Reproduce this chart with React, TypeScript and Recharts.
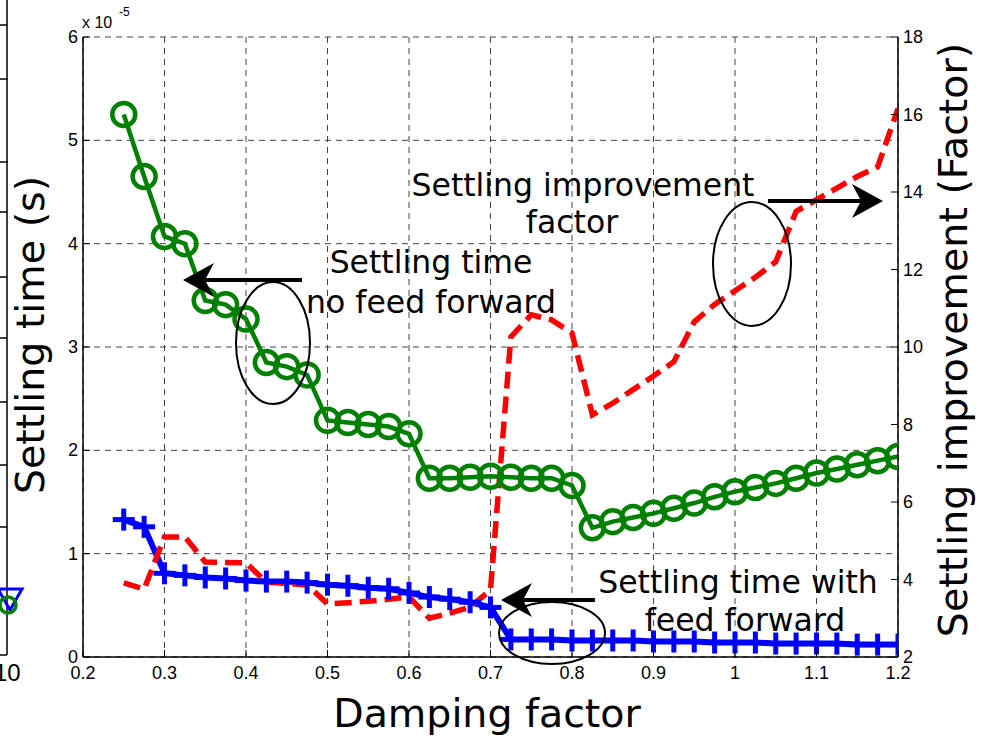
import React from 'react';
import { ComposedChart, Line, XAxis, YAxis, CartesianGrid } from 'recharts';

const dampingFactors = [0.25, 0.275, 0.3, 0.325, 0.35, 0.375, 0.4, 0.425, 0.45, 0.475, 0.5, 0.525, 0.55, 0.575, 0.6, 0.625, 0.65, 0.675, 0.7, 0.725, 0.75, 0.775, 0.8, 0.825, 0.85, 0.875, 0.9, 0.925, 0.95, 0.975, 1.0, 1.025, 1.05, 1.075, 1.1, 1.125, 1.15, 1.175, 1.2];

// settling time without feed forward (x 1e-5 s)
const settlingNoFF = [5.25, 4.65, 4.07, 4.0, 3.45, 3.41, 3.27, 2.85, 2.81, 2.73, 2.29, 2.27, 2.25, 2.23, 2.16, 1.73, 1.73, 1.74, 1.75, 1.74, 1.73, 1.73, 1.66, 1.25, 1.31, 1.35, 1.39, 1.44, 1.49, 1.55, 1.6, 1.64, 1.68, 1.73, 1.78, 1.82, 1.86, 1.9, 1.94];

// settling time with feed forward (x 1e-5 s)
const settlingFF = [1.33, 1.26, 0.81, 0.79, 0.77, 0.76, 0.74, 0.73, 0.73, 0.72, 0.7, 0.69, 0.67, 0.66, 0.62, 0.58, 0.56, 0.53, 0.48, 0.17, 0.17, 0.17, 0.16, 0.16, 0.16, 0.16, 0.15, 0.15, 0.15, 0.14, 0.14, 0.14, 0.13, 0.13, 0.13, 0.13, 0.12, 0.12, 0.12];

// settling improvement factor
const improvement = [3.91, 3.75, 5.1, 5.1, 4.45, 4.44, 4.43, 3.93, 3.9, 3.86, 3.37, 3.4, 3.44, 3.49, 3.55, 3.0, 3.13, 3.29, 3.73, 10.26, 10.83, 10.7, 10.36, 8.25, 8.55, 8.9, 9.25, 9.62, 10.65, 11.1, 11.45, 11.8, 12.2, 13.5, 13.8, 14.1, 14.4, 14.65, 16.15];

const xTicks = [0.2, 0.3, 0.4, 0.5, 0.6, 0.7, 0.8, 0.9, 1.0, 1.1, 1.2];
const leftTicks = [0, 1, 2, 3, 4, 5, 6];
const rightTicks = [2, 4, 6, 8, 10, 12, 14, 16, 18];

const data = dampingFactors.map((x, i) => ({
  x,
  noff: settlingNoFF[i],
  ff: settlingFF[i],
  imp: improvement[i],
}));

const TICK_FONT = '"Liberation Sans", Arial, sans-serif';
const TITLE_FONT = '"DejaVu Sans", "Noto Sans", sans-serif';
const TICK_LEN = 7;

const fmtX = (v: number) => (Math.round(v * 10) / 10).toString();

const BottomTick = (props: any) => {
  const { x, y, payload } = props;
  const axisY = y - 5;
  return (
    <g>
      <line x1={x} y1={axisY} x2={x} y2={axisY - TICK_LEN} stroke="#000" strokeWidth={1} />
      <text x={x} y={axisY + 22} textAnchor="middle" fontFamily={TICK_FONT} fontSize={18} fill="#000">
        {fmtX(payload.value)}
      </text>
    </g>
  );
};

const LeftTick = (props: any) => {
  const { x, y, payload } = props;
  const axisX = x + 5;
  return (
    <g>
      <line x1={axisX} y1={y} x2={axisX + TICK_LEN} y2={y} stroke="#000" strokeWidth={1} />
      <text x={axisX - 5} y={y + 6} textAnchor="end" fontFamily={TICK_FONT} fontSize={18} fill="#000">
        {payload.value}
      </text>
    </g>
  );
};

const RightTick = (props: any) => {
  const { x, y, payload } = props;
  const axisX = x - 5;
  return (
    <g>
      <line x1={axisX} y1={y} x2={axisX - TICK_LEN} y2={y} stroke="#000" strokeWidth={1} />
      <text x={axisX + 5} y={y + 6} textAnchor="start" fontFamily={TICK_FONT} fontSize={18} fill="#000">
        {payload.value}
      </text>
    </g>
  );
};

const CircleDot = (props: any) => {
  const { cx, cy, index } = props;
  if (cx == null || cy == null) return null;
  return <circle key={`c${index}`} cx={cx} cy={cy} r={11.5} fill="none" stroke="#008000" strokeWidth={4.5} />;
};

const PlusDot = (props: any) => {
  const { cx, cy, index } = props;
  if (cx == null || cy == null) return null;
  const h = 11;
  return (
    <g key={`p${index}`}>
      <line x1={cx - h} y1={cy} x2={cx + h} y2={cy} stroke="#0000ff" strokeWidth={5} />
      <line x1={cx} y1={cy - h} x2={cx} y2={cy + h} stroke="#0000ff" strokeWidth={5} />
    </g>
  );
};

const arrowLeft = (tipX: number, tipY: number, tailX: number) => (
  <g>
    <line x1={tipX + 22} y1={tipY} x2={tailX} y2={tipY} stroke="#000" strokeWidth={4} />
    <polygon
      points={`${tipX},${tipY} ${tipX + 31},${tipY - 17} ${tipX + 22},${tipY} ${tipX + 31},${tipY + 17}`}
      fill="#000"
    />
  </g>
);

const arrowRight = (tipX: number, tipY: number, tailX: number) => (
  <g>
    <line x1={tailX} y1={tipY} x2={tipX - 22} y2={tipY} stroke="#000" strokeWidth={4} />
    <polygon
      points={`${tipX},${tipY} ${tipX - 31},${tipY - 17} ${tipX - 22},${tipY} ${tipX - 31},${tipY + 17}`}
      fill="#000"
    />
  </g>
);

const Overlay = () => (
  <svg
    width={984}
    height={737}
    style={{ position: 'absolute', left: 0, top: 0, pointerEvents: 'none' }}
  >
    {/* fragment of neighbouring figure at the left edge */}
    <g stroke="#000" strokeWidth={1.5} fill="none">
      <line x1={7} y1={0} x2={7} y2={655} />
      <line x1={0} y1={25} x2={7} y2={25} />
      <line x1={0} y1={79} x2={8} y2={79} />
      <line x1={0} y1={162} x2={8} y2={162} />
      <line x1={0} y1={212} x2={7} y2={212} />
      <line x1={0} y1={277} x2={7} y2={277} />
      <line x1={0} y1={338} x2={7} y2={338} />
      <line x1={0} y1={402} x2={7} y2={402} />
      <line x1={0} y1={465} x2={7} y2={465} />
      <line x1={0} y1={527} x2={7} y2={527} />
      <line x1={0} y1={655} x2={7} y2={655} />
    </g>
    <polygon points="-2,589 22,589 10,610" fill="none" stroke="#0000ff" strokeWidth={3} />
    <circle cx={8} cy={605} r={8} fill="none" stroke="#008000" strokeWidth={3.5} />
    <text x={-6} y={681} fontFamily={TICK_FONT} fontSize={24} fill="#000">10</text>

    {/* exponent label */}
    <text x={82} y={28} fontFamily={TICK_FONT} fontSize={16} fill="#000">x 10</text>
    <text x={119} y={16} fontFamily={TICK_FONT} fontSize={12} fill="#000">-5</text>

    {/* annotations */}
    <g fontFamily={TITLE_FONT} fontSize={31.5} fill="#000" textAnchor="middle">
      <text x={431} y={273}>Settling time</text>
      <text x={431} y={313}>no feed forward</text>
      <text x={583} y={196}>Settling improvement</text>
      <text x={572} y={233}>factor</text>
      <text x={738} y={593}>Settling time with</text>
      <text x={745} y={631}>feed forward</text>
    </g>
    <g fill="none" stroke="#000" strokeWidth={2}>
      <ellipse cx={273} cy={343} rx={37} ry={61} />
      <ellipse cx={752} cy={264} rx={39} ry={62} />
      <ellipse cx={552} cy={633} rx={53} ry={31} />
    </g>
    {arrowLeft(183, 280, 302)}
    {arrowRight(883, 201, 768)}
    {arrowLeft(501, 600, 595)}

    {/* axis titles */}
    <text x={487} y={727} textAnchor="middle" fontFamily={TITLE_FONT} fontSize={39.5} fill="#000">
      Damping factor
    </text>
    <text
      x={0}
      y={0}
      transform="translate(44,335) rotate(-90)"
      textAnchor="middle"
      fontFamily={TITLE_FONT}
      fontSize={39.5}
      fill="#000"
    >
      Settling time (s)
    </text>
    <text
      x={0}
      y={0}
      transform="translate(967,340) rotate(-90)"
      textAnchor="middle"
      fontFamily={TITLE_FONT}
      fontSize={39.5}
      fill="#000"
    >
      Settling improvement (Factor)
    </text>
  </svg>
);

export default function App() {
  return (
    <div style={{ position: 'absolute', left: 0, top: 0, width: 984, height: 737, background: '#fff', overflow: 'hidden' }}>
      <ComposedChart
        width={984}
        height={737}
        data={data}
        margin={{ top: 37, right: 0, bottom: 0, left: 0 }}
      >
        <CartesianGrid
          xAxisId={0}
          yAxisId="left"
          stroke="#444"
          strokeWidth={1}
          strokeDasharray="6 5"
          verticalValues={xTicks}
          horizontalValues={leftTicks}
        />
        <XAxis
          xAxisId={0}
          dataKey="x"
          type="number"
          domain={[0.2, 1.2]}
          ticks={xTicks}
          interval={0}
          height={80}
          tickSize={0}
          tickMargin={5}
          tickLine={false}
          axisLine={{ stroke: '#000', strokeWidth: 1.5 }}
          tick={<BottomTick />}
          allowDataOverflow
        />
        <XAxis
          xAxisId="top"
          dataKey="x"
          type="number"
          orientation="top"
          domain={[0.2, 1.2]}
          height={0}
          tick={false}
          tickLine={false}
          axisLine={{ stroke: '#000', strokeWidth: 1.5 }}
        />
        <YAxis
          yAxisId="left"
          orientation="left"
          type="number"
          domain={[0, 6]}
          ticks={leftTicks}
          interval={0}
          width={83}
          tickSize={0}
          tickMargin={5}
          tickLine={false}
          axisLine={{ stroke: '#000', strokeWidth: 1.5 }}
          tick={<LeftTick />}
          allowDataOverflow
        />
        <YAxis
          yAxisId="right"
          orientation="right"
          type="number"
          domain={[2, 18]}
          ticks={rightTicks}
          interval={0}
          width={86}
          tickSize={0}
          tickMargin={5}
          tickLine={false}
          axisLine={{ stroke: '#000', strokeWidth: 1.5 }}
          tick={<RightTick />}
          allowDataOverflow
        />
        <Line
          xAxisId={0}
          yAxisId="left"
          dataKey="noff"
          stroke="#008000"
          strokeWidth={4.5}
          dot={<CircleDot />}
          activeDot={false}
          isAnimationActive={false}
          type="linear"
        />
        <Line
          xAxisId={0}
          yAxisId="left"
          dataKey="ff"
          stroke="#0000ff"
          strokeWidth={6}
          dot={<PlusDot />}
          activeDot={false}
          isAnimationActive={false}
          type="linear"
        />
        <Line
          xAxisId={0}
          yAxisId="right"
          dataKey="imp"
          stroke="#ff0000"
          strokeWidth={5.5}
          strokeDasharray="17 8"
          dot={false}
          activeDot={false}
          isAnimationActive={false}
          type="linear"
        />
      </ComposedChart>
      <Overlay />
    </div>
  );
}
